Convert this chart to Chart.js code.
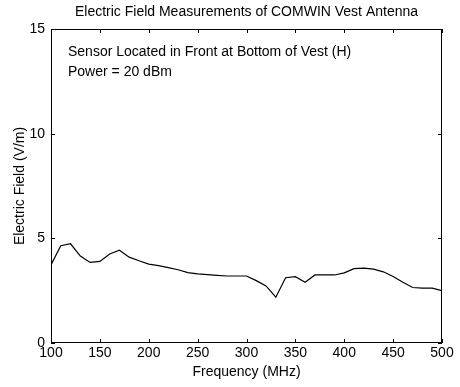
<!DOCTYPE html>
<html><head><meta charset="utf-8">
<script src="https://cdn.jsdelivr.net/npm/chart.js@4"></script>
<style>html,body{margin:0;padding:0;background:#fff}#wrap{width:460px;height:387px}</style>
</head><body><div id="wrap"><canvas id="c"></canvas></div>
<script>
const frequencies = [100,110,120,130,140,150,160,170,180,190,200,210,220,230,240,250,260,270,280,290,300,310,320,330,340,350,360,370,380,390,400,410,420,430,440,450,460,470,480,490,500];
const fieldValues = [3.73,4.65,4.74,4.15,3.85,3.9,4.25,4.43,4.1,3.93,3.77,3.7,3.6,3.5,3.36,3.3,3.27,3.23,3.2,3.2,3.2,2.98,2.73,2.19,3.12,3.17,2.9,3.25,3.25,3.25,3.35,3.55,3.58,3.53,3.4,3.18,2.9,2.65,2.62,2.62,2.5];
const xTicks = [100,150,200,250,300,350,400,450,500];
const yTicks = [0,5,10,15];
const annotationLines = ["Sensor Located in Front at Bottom of Vest (H)", "Power = 20 dBm"];
const FONT = "'Liberation Sans', Arial, sans-serif";

const frame = {
  id: 'frame',
  afterDraw(chart) {
    const {ctx, chartArea: a, scales: {x, y}} = chart;
    ctx.save();
    ctx.strokeStyle = '#000'; ctx.lineWidth = 1;
    ctx.strokeRect(a.left + 0.5, a.top + 0.5, a.right - a.left - 1, a.bottom - a.top - 1);
    const L = 4;
    ctx.beginPath();
    xTicks.forEach(v => { const px = Math.round(x.getPixelForValue(v)) + 0.5;
      ctx.moveTo(px, a.bottom); ctx.lineTo(px, a.bottom - L);
      ctx.moveTo(px, a.top); ctx.lineTo(px, a.top + L); });
    yTicks.forEach(v => { const py = Math.round(y.getPixelForValue(v)) + 0.5;
      ctx.moveTo(a.left, py); ctx.lineTo(a.left + L, py);
      ctx.moveTo(a.right, py); ctx.lineTo(a.right - L, py); });
    ctx.stroke();
    ctx.fillStyle = '#000';
    ctx.font = '14px ' + FONT;
    ctx.textBaseline = 'middle';
    ctx.textAlign = 'left';
    ctx.fillText(annotationLines[0], a.left + 17, a.top + 23);
    ctx.fillText(annotationLines[1], a.left + 17, a.top + 43);
    ctx.restore();
  }
};

new Chart(document.getElementById('c'), {
  type: 'line',
  data: {
    labels: frequencies,
    datasets: [{
      data: frequencies.map((f, i) => ({x: f, y: fieldValues[i]})),
      borderColor: '#000', borderWidth: 1.2, pointRadius: 0, tension: 0, fill: false
    }]
  },
  options: {
    responsive: true, maintainAspectRatio: false, animation: false,
    layout: {padding: {top: 0, right: 18, left: 0, bottom: 0}},
    plugins: {
      legend: {display: false}, tooltip: {enabled: false},
      title: {display: true, fullSize: false, text: 'Electric Field Measurements of COMWIN Vest Antenna',
        color: '#000', font: {family: FONT, size: 14, weight: 'normal'}, padding: {top: 4, bottom: 8.2}}
    },
    scales: {
      x: {
        type: 'linear', min: 100, max: 500,
        afterFit(s) { s.height = 44; },
        afterBuildTicks(s) { s.ticks = xTicks.map(v => ({value: v})); },
        grid: {display: false, drawTicks: false}, border: {display: false},
        ticks: {color: '#000', font: {family: FONT, size: 14}, padding: 2, maxRotation: 0, autoSkip: false},
        title: {display: true, text: 'Frequency (MHz)', color: '#000', font: {family: FONT, size: 14}, padding: {top: 0, bottom: 6}}
      },
      y: {
        type: 'linear', min: 0, max: 15,
        afterFit(s) { s.width = 51; },
        afterBuildTicks(s) { s.ticks = yTicks.map(v => ({value: v})); },
        grid: {display: false, drawTicks: false}, border: {display: false},
        ticks: {color: '#000', font: {family: FONT, size: 14}, padding: 6},
        title: {display: true, text: 'Electric Field (V/m)', color: '#000', font: {family: FONT, size: 14}, padding: {top: 12, bottom: 0}}
      }
    }
  },
  plugins: [frame]
});
</script></body></html>
